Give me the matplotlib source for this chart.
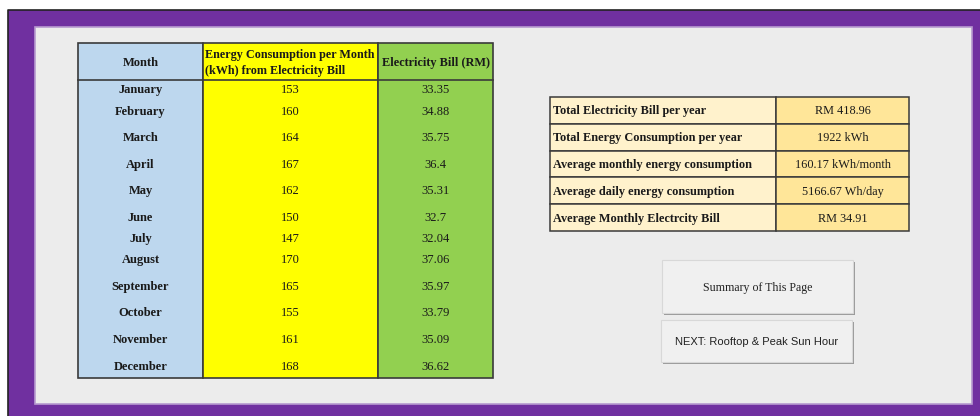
import matplotlib.pyplot as plt
from matplotlib.patches import Rectangle

# monthly data from the sheet
months = ["January", "February", "March", "April", "May", "June", "July",
          "August", "September", "October", "November", "December"]
energy_kwh = [153, 160, 164, 167, 162, 150, 147, 170, 165, 155, 161, 168]
bill_rm = ["33.35", "34.88", "35.75", "36.4", "35.31", "32.7", "32.04",
           "37.06", "35.97", "33.79", "35.09", "36.62"]

header = ["Month", "Energy Consumption per Month\n(kWh) from Electricity Bill",
          "Electricity Bill (RM)"]

summary_labels = ["Total Electricity Bill per year", "Total Energy Consumption per year",
                  "Average monthly energy consumption", "Average daily energy consumption",
                  "Average Monthly Electrcity Bill"]
summary_values = ["RM 418.96", "1922 kWh", "160.17 kWh/month", "5166.67 Wh/day", "RM 34.91"]

buttons = ["Summary of This Page", "NEXT: Rooftop & Peak Sun Hour"]

# layout (pixel units)
W, H = 980, 416
row_centres = [89, 111, 137, 164, 190, 217, 238, 259, 286, 312, 339, 366]
col_edges = [78, 203, 378, 493]
col_fill = ["#BDD7EE", "#FFFF00", "#92D050"]
EDGE = "#3a3a3a"
INK = "#1a1a1a"
SERIF = "Liberation Serif"
FS = 9

fig = plt.figure(figsize=(W / 100, H / 100), dpi=100)
ax = fig.add_axes([0, 0, 1, 1])
ax.set_xlim(0, W)
ax.set_ylim(H, 0)
ax.axis("off")

# frame
ax.add_patch(Rectangle((0, 0), W, H, color="white"))
ax.add_patch(Rectangle((8, 10), W - 8, H - 10, facecolor="#7030A0", edgecolor="none"))
ax.plot([8, 8, W], [H, 10, 10], color="#222222", lw=1.2)
ax.add_patch(Rectangle((35, 27), 937, 377, facecolor="#ECECEC", edgecolor="#B79AD0", lw=1.2))

# main table
top, head_bot, bot = 43, 80, 378
for i in range(3):
    ax.add_patch(Rectangle((col_edges[i], top), col_edges[i + 1] - col_edges[i], bot - top,
                           facecolor=col_fill[i], edgecolor=EDGE, lw=1.2))
ax.plot([col_edges[0], col_edges[-1]], [head_bot, head_bot], color=EDGE, lw=1.2)

ax.text((col_edges[0] + col_edges[1]) / 2, 63, header[0], ha="center", va="center",
        family=SERIF, weight="bold", fontsize=FS, color=INK)
ax.text(col_edges[1] + 2, 63, header[1], ha="left", va="center", linespacing=1.45,
        family=SERIF, weight="bold", fontsize=8.7, color=INK)
ax.text((col_edges[2] + col_edges[3]) / 2, 63, header[2], ha="center", va="center",
        family=SERIF, weight="bold", fontsize=8.8, color=INK)

for y, m, e, b in zip(row_centres, months, energy_kwh, bill_rm):
    ax.text((col_edges[0] + col_edges[1]) / 2, y + 1, m, ha="center", va="center",
            family=SERIF, weight="bold", fontsize=FS, color=INK)
    ax.text((col_edges[1] + col_edges[2]) / 2, y + 1, str(e), ha="center", va="center",
            family=SERIF, fontsize=FS, color=INK)
    ax.text((col_edges[2] + col_edges[3]) / 2, y + 1, b, ha="center", va="center",
            family=SERIF, fontsize=FS, color=INK)

# summary table
sx0, sx1, sx2 = 550, 776, 909
sy0, rh = 97, 26.8
for i, (lab, val) in enumerate(zip(summary_labels, summary_values)):
    y = sy0 + i * rh
    ax.add_patch(Rectangle((sx0, y), sx1 - sx0, rh, facecolor="#FFF2CC", edgecolor=EDGE, lw=1.1))
    ax.add_patch(Rectangle((sx1, y), sx2 - sx1, rh, facecolor="#FFE699", edgecolor=EDGE, lw=1.1))
    ax.text(sx0 + 3, y + rh / 2 + 1, lab, ha="left", va="center",
            family=SERIF, weight="bold", fontsize=8.8, color=INK)
    ax.text((sx1 + sx2) / 2, y + rh / 2 + 1, val, ha="center", va="center",
            family=SERIF, fontsize=8.8, color=INK)

# buttons
btn_boxes = [(662, 260, 191, 53), (661, 320, 191, 42)]
btn_fonts = [(SERIF, 8.6), ("Liberation Sans", 8)]
for (x, y, w, h), label, (fam, size) in zip(btn_boxes, buttons, btn_fonts):
    ax.add_patch(Rectangle((x + 2, y + 2), w, h, facecolor="#9a9a9a", edgecolor="none"))
    ax.add_patch(Rectangle((x, y), w, h, facecolor="#F0F0F0", edgecolor="#d8d8d8", lw=0.8))
    ax.text(x + w / 2, y + h / 2 + 1, label, ha="center", va="center",
            family=fam, fontsize=size, color="#222222")

fig.savefig("out.png", dpi=100)
